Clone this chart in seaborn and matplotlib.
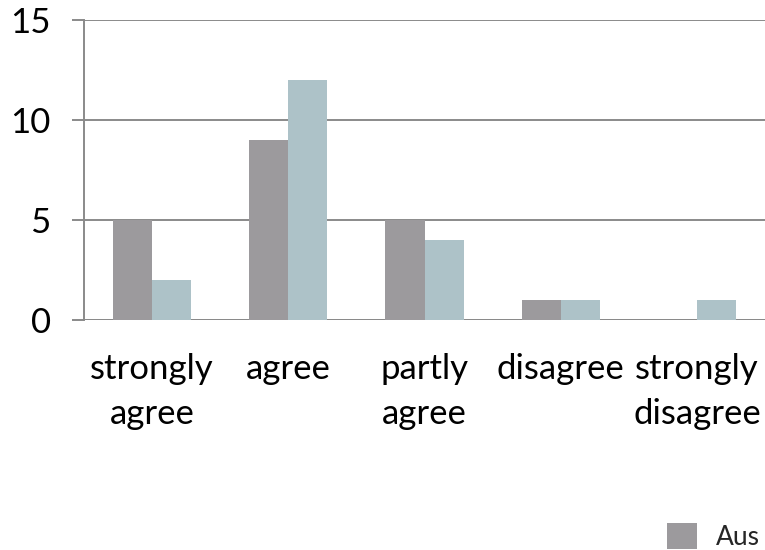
import pandas as pd
import matplotlib.pyplot as plt
import seaborn as sns
from matplotlib.patches import Patch

# Survey answers, two groups (only "Aus" is visible in the legend)
categories = ["strongly\nagree", "agree", "partly\nagree", "disagree", "strongly\ndisagree"]
aus_counts = [5, 9, 5, 1, 0]
other_counts = [2, 12, 4, 1, 1]
series_names = ["Aus", "Other"]

sns.set_theme(style="white")
plt.rcParams['font.family'] = ['Lato', 'DejaVu Sans']

df = pd.DataFrame({
    "answer": categories * 2,
    "count": aus_counts + other_counts,
    "group": [series_names[0]] * len(categories) + [series_names[1]] * len(categories),
})

palette = {"Aus": "#9c9a9d", "Other": "#a9c5cc"}
grid_col = "#8a8a8a"

fig = plt.figure(figsize=(7.65, 5.5), dpi=100)
ax = fig.add_axes([84 / 765, 1 - 320 / 550, 1 - 84 / 765, 300 / 550])

sns.barplot(data=df, x="answer", y="count", hue="group", palette=palette,
            width=0.575, gap=0, edgecolor="none", legend=False, ax=ax)

ax.set_xlim(-0.5, len(categories) - 0.5)
ax.set_ylim(0, 15)
ax.set_yticks([0, 5, 10, 15])
ax.yaxis.grid(True, color=grid_col, linewidth=1.4)
ax.set_axisbelow(True)
ax.set_xlabel("")
ax.set_ylabel("")

for side in ["top", "right", "bottom"]:
    ax.spines[side].set_visible(False)
ax.spines["left"].set_color(grid_col)
ax.spines["left"].set_linewidth(1.4)
ax.axhline(0, color=grid_col, linewidth=1.4, zorder=0.5)

# category boundary ticks below the axis
ax.set_xticks([i - 0.5 for i in range(len(categories) + 1)], minor=True)
ax.tick_params(axis="x", which="minor", length=9, width=1.4, color=grid_col, direction="out")
ax.tick_params(axis="x", which="major", length=0, pad=24, labelsize=25, labelcolor="black")
ax.tick_params(axis="y", length=9, width=1.4, color=grid_col, direction="out",
               pad=15, labelsize=25, labelcolor="black", left=True)
for lab in ax.get_xticklabels():
    lab.set_linespacing(1.5)

handle = Patch(facecolor=palette["Aus"], edgecolor="none")
fig.legend([handle], ["Aus"], loc="lower left", bbox_to_anchor=(667 / 765, 0.0),
           frameon=False, fontsize=19, handlelength=1.14, handleheight=1.14,
           handletextpad=0.72, borderpad=0, borderaxespad=0)

fig.savefig("out.png", dpi=100)
plt.close(fig)
